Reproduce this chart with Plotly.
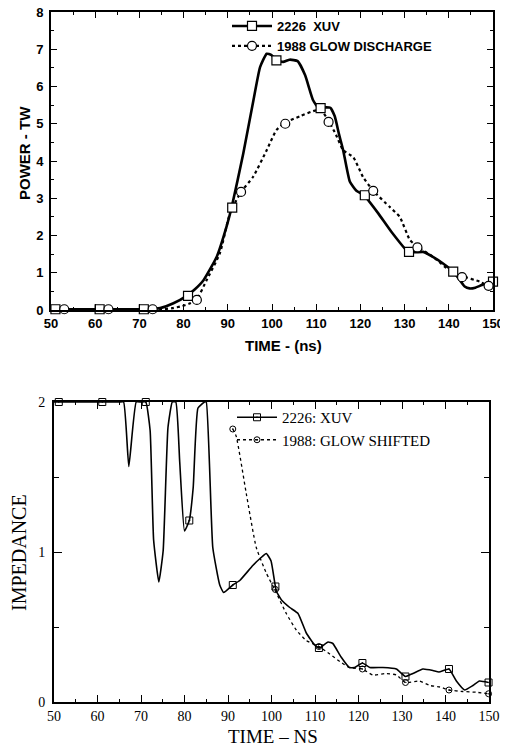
import plotly.graph_objects as go

# ---------------- Top chart: POWER - TW ----------------
xuv_curve_x = [50, 55, 60, 65, 70, 72, 74.7, 77.7, 80.7, 82.5, 84.5, 87.5, 89.7, 90.9, 93.5, 95.8, 97.3,
               98.8, 99.8, 100.9, 102.5, 104, 105.8, 107.5, 109.3, 110.6, 112, 113.2, 114.2, 115.2, 116.1,
               117.6, 119.1, 120.8, 124, 127, 130.8, 132.5, 134.2, 136.5, 138.7, 141, 142.5, 143.6, 144.7,
               146, 147.5, 150]
xuv_curve_y = [0.02, 0.02, 0.02, 0.02, 0.02, 0.02, 0.05, 0.18, 0.38, 0.55, 0.8, 1.43, 2.23, 2.77, 4.2, 5.63,
               6.52, 6.88, 6.85, 6.72, 6.66, 6.72, 6.68, 6.3, 5.63, 5.42, 5.44, 5.43, 5.2, 4.7, 4.29, 3.45,
               3.2, 3.08, 2.6, 2.1, 1.56, 1.55, 1.56, 1.42, 1.25, 1.03, 0.8, 0.63, 0.58, 0.6, 0.67, 0.76]
xuv_mark_x = [51, 61, 71, 81, 91, 101, 111, 121, 131, 141, 150]
xuv_mark_y = [0.02, 0.02, 0.02, 0.38, 2.75, 6.7, 5.42, 3.08, 1.56, 1.03, 0.76]

glow_curve_x = [50, 55, 60, 65, 70, 75, 77.5, 79.5, 81.5, 82.9, 85.2, 88.2, 90.5, 93, 95.7, 98.8, 101, 103,
                106.3, 110, 111.5, 112.8, 114.5, 116.1, 118.4, 120.6, 122.9, 126.6, 128.9, 131.2, 132.9,
                136.4, 140.1, 143.1, 147, 149]
glow_curve_y = [0.02, 0.02, 0.02, 0.02, 0.02, 0.02, 0.05, 0.1, 0.18, 0.27, 0.8, 1.52, 2.6, 3.17, 3.57, 4.29,
                4.83, 5.03, 5.2, 5.36, 5.3, 5.08, 4.7, 4.29, 4.1, 3.57, 3.2, 2.77, 2.5, 1.88, 1.7, 1.43, 1.07,
                0.91, 0.76, 0.64]
glow_mark_x = [53, 63, 73, 83, 93, 103, 112.8, 122.9, 132.9, 143, 149]
glow_mark_y = [0.02, 0.02, 0.02, 0.27, 3.17, 5.0, 5.05, 3.2, 1.68, 0.88, 0.65]

top_names = ["2226  XUV", "1988 GLOW DISCHARGE"]

# ---------------- Bottom chart: IMPEDANCE ----------------
imp_xuv_x = [50, 55, 60, 65, 66, 67.2, 68.9, 70, 71.1, 72.1, 72.9, 74.1, 75.1, 76.2, 77.2, 78, 78.9, 80,
             81.1, 82, 83.1, 84.6, 85, 86.5, 88.1, 89, 91.1, 92.7, 95.7, 97.5, 98.8, 99.9, 101.1, 102.3,
             104.2, 106.1, 108, 109.9, 111, 113, 114.1, 116, 117.9, 119.1, 120.9, 122.6, 125.6, 128.7,
             130.8, 132.5, 134.8, 137.1, 138.5, 140.8, 142.5, 144.4, 146.3, 147.8, 149.9]
imp_xuv_y = [2, 2, 2, 2, 2, 1.57, 2, 2, 2, 1.81, 1.08, 0.8, 1.01, 1.83, 2, 2, 1.6, 1.14, 1.21, 1.43, 1.96,
             2, 2, 1.03, 0.78, 0.73, 0.78, 0.81, 0.91, 0.96, 0.99, 0.94, 0.74, 0.68, 0.63, 0.59, 0.46, 0.38,
             0.36, 0.4, 0.39, 0.3, 0.23, 0.23, 0.26, 0.23, 0.23, 0.22, 0.17, 0.19, 0.22, 0.21, 0.2, 0.22,
             0.14, 0.08, 0.11, 0.14, 0.13]
imp_xuv_mx = [51.1, 61.1, 71.1, 81.1, 91.1, 100.9, 110.9, 120.9, 130.8, 140.8, 149.9]
imp_xuv_my = [2, 2, 2, 1.21, 0.78, 0.77, 0.36, 0.26, 0.17, 0.22, 0.13]

imp_glow_x = [91.1, 91.9, 94.2, 96.5, 98.8, 100.9, 103.4, 105.7, 108, 110.9, 113.4, 115.7, 117.9, 120.9,
              123.3, 126.4, 128.7, 130.8, 134, 136.4, 138.7, 140.8, 144, 147, 149.9]
imp_glow_y = [1.82, 1.77, 1.39, 1.03, 0.86, 0.74, 0.59, 0.48, 0.41, 0.37, 0.32, 0.27, 0.23, 0.22, 0.18,
              0.19, 0.18, 0.13, 0.14, 0.11, 0.1, 0.08, 0.07, 0.065, 0.055]
imp_glow_mx = [91.1, 100.9, 110.9, 120.9, 130.8, 140.8, 149.9]
imp_glow_my = [1.82, 0.75, 0.37, 0.22, 0.13, 0.08, 0.055]

bot_names = ["2226: XUV", "1988: GLOW SHIFTED"]

x_ticks = list(range(50, 151, 10))

SANS = "Liberation Sans, Arial, sans-serif"
SERIF = "Liberation Serif, Times New Roman, serif"

fig = go.Figure()

# top chart traces
fig.add_trace(go.Scatter(x=xuv_curve_x, y=xuv_curve_y, mode="lines", xaxis="x", yaxis="y",
                         line=dict(color="black", width=2.6, shape="spline", smoothing=0.45), showlegend=False))
fig.add_trace(go.Scatter(x=glow_curve_x, y=glow_curve_y, mode="lines", xaxis="x", yaxis="y",
                         line=dict(color="black", width=2.2, dash="dot", shape="spline", smoothing=0.5),
                         showlegend=False))
fig.add_trace(go.Scatter(x=xuv_mark_x, y=xuv_mark_y, mode="markers", xaxis="x", yaxis="y", cliponaxis=False,
                         marker=dict(symbol="square", size=9, color="white", line=dict(color="black", width=1.2)),
                         showlegend=False))
fig.add_trace(go.Scatter(x=glow_mark_x, y=glow_mark_y, mode="markers", xaxis="x", yaxis="y", cliponaxis=False,
                         marker=dict(symbol="circle", size=9, color="white", line=dict(color="black", width=1.2)),
                         showlegend=False))
fig.add_trace(go.Scatter(x=[None], y=[None], mode="lines+markers", xaxis="x", yaxis="y", name=top_names[0],
                         line=dict(color="black", width=2.6),
                         marker=dict(symbol="square", size=9, color="white", line=dict(color="black", width=1.2)),
                         legend="legend"))
fig.add_trace(go.Scatter(x=[None], y=[None], mode="lines+markers", xaxis="x", yaxis="y", name=top_names[1],
                         line=dict(color="black", width=2.2, dash="dot"),
                         marker=dict(symbol="circle", size=9, color="white", line=dict(color="black", width=1.2)),
                         legend="legend"))

# bottom chart traces
fig.add_trace(go.Scatter(x=imp_xuv_x, y=imp_xuv_y, mode="lines", xaxis="x2", yaxis="y2",
                         line=dict(color="black", width=1.6, shape="spline", smoothing=0.4), showlegend=False))
fig.add_trace(go.Scatter(x=imp_glow_x, y=imp_glow_y, mode="lines", xaxis="x2", yaxis="y2",
                         line=dict(color="black", width=1.3, dash="dot", shape="spline", smoothing=0.5),
                         showlegend=False))
fig.add_trace(go.Scatter(x=imp_xuv_mx, y=imp_xuv_my, mode="markers", xaxis="x2", yaxis="y2", cliponaxis=False,
                         marker=dict(symbol="square-open-dot", size=7, color="black", line=dict(width=1)),
                         showlegend=False))
fig.add_trace(go.Scatter(x=imp_glow_mx, y=imp_glow_my, mode="markers", xaxis="x2", yaxis="y2", cliponaxis=False,
                         marker=dict(symbol="circle-open-dot", size=6, color="black", line=dict(width=1)),
                         showlegend=False))
fig.add_trace(go.Scatter(x=[None], y=[None], mode="lines+markers", xaxis="x2", yaxis="y2", name=bot_names[0],
                         line=dict(color="black", width=1.6),
                         marker=dict(symbol="square-open-dot", size=7, color="black", line=dict(width=1)),
                         legend="legend2"))
fig.add_trace(go.Scatter(x=[None], y=[None], mode="lines+markers", xaxis="x2", yaxis="y2", name=bot_names[1],
                         line=dict(color="black", width=1.3, dash="dot"),
                         marker=dict(symbol="circle-open-dot", size=6, color="black", line=dict(width=1)),
                         legend="legend2"))

# page body has an 8px margin: the figure is laid out in window pixels shifted by it
OX, OY = 8, 8
W, H = 500, 740


def px(x):
    return (x - OX) / W


def py(y):
    return 1 - (y - OY) / H


def ax(domain, rng, tickvals, font, minor_dtick, anchor, ticklen=6, minorlen=3, lw=2, standoff=0):
    return dict(domain=domain, range=rng, tickvals=tickvals, ticks="inside", ticklen=ticklen, tickwidth=1.3,
                tickcolor="black", showline=True, linecolor="black", linewidth=lw, mirror="ticks",
                showgrid=False, zeroline=False, tickfont=font, anchor=anchor, automargin=False,
                ticklabeloverflow="allow", ticklabelstandoff=standoff,
                minor=dict(dtick=minor_dtick, ticks="inside", ticklen=minorlen, tickcolor="black", tickwidth=1.2,
                           showgrid=False))


top_font = dict(family=SANS, size=13, color="black", weight="bold")
bot_font = dict(family=SERIF, size=14, color="black")

fig.update_layout(
    width=W, height=H, margin=dict(l=0, r=0, t=0, b=0),
    paper_bgcolor="white", plot_bgcolor="white",
    xaxis=ax([px(51), px(493)], [50, 150], x_ticks, top_font, 5, "y", standoff=0),
    yaxis=ax([py(310), py(12)], [0, 8], list(range(0, 9)), top_font, 0.5, "x", standoff=3),
    xaxis2=ax([px(54), px(489)], [50, 150], x_ticks, bot_font, 5, "y2", ticklen=7, standoff=0),
    yaxis2=ax([py(702), py(402)], [0, 2], [0, 1, 2], bot_font, 0.5, "x2", ticklen=8, minorlen=5,
              standoff=4),
    legend=dict(x=px(227), y=py(11), xanchor="left", yanchor="top", bgcolor="rgba(0,0,0,0)",
                font=dict(family=SANS, size=13, color="black", weight="bold"), tracegroupgap=0, itemwidth=40),
    legend2=dict(x=px(232), y=py(401), xanchor="left", yanchor="top", bgcolor="rgba(0,0,0,0)",
                 font=dict(family=SERIF, size=15, color="black"), tracegroupgap=0, itemwidth=40),
    annotations=[
        dict(text="TIME - (ns)", x=px(283), y=py(345), xref="paper", yref="paper", showarrow=False,
             xanchor="center", yanchor="middle",
             font=dict(family=SANS, size=15, color="black", weight="bold")),
        dict(text="POWER - TW", x=px(24), y=py(153), xref="paper", yref="paper", showarrow=False,
             xanchor="center", yanchor="middle",
             textangle=-90, font=dict(family=SANS, size=15, color="black", weight="bold")),
        dict(text="TIME – NS", x=px(273), y=py(736), xref="paper", yref="paper", showarrow=False,
             xanchor="center", yanchor="middle",
             font=dict(family=SERIF, size=19, color="black")),
        dict(text="IMPEDANCE", x=px(19), y=py(553), xref="paper", yref="paper", showarrow=False,
             xanchor="center", yanchor="middle",
             textangle=-90, font=dict(family=SERIF, size=20, color="black")),
    ],
)

fig.write_html("out.html")
